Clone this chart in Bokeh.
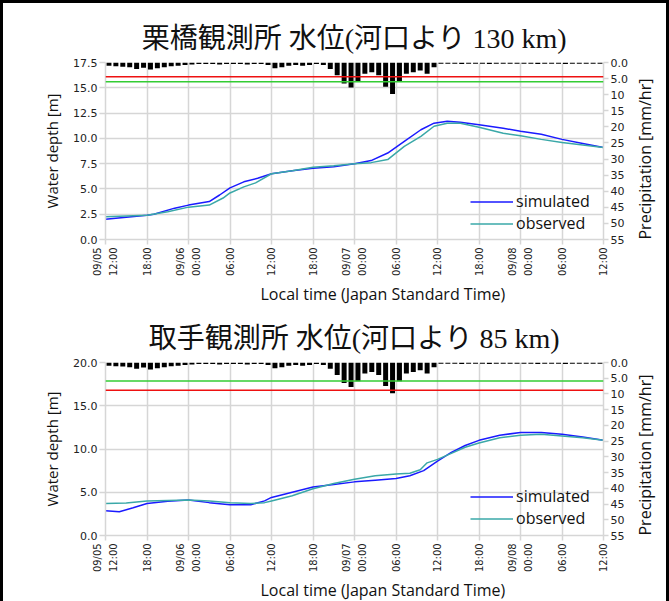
import math
from bokeh.plotting import figure
from bokeh.models import Range1d, LinearAxis, FixedTicker, Span, Title
from bokeh.layouts import column
from bokeh.embed import file_html
from bokeh.resources import INLINE

# ---------------- data ----------------
x_ticks = [0, 6, 12, 18, 24, 30, 36, 42, 48, 54, 60, 66, 72]
x_tick_labels = ["09/05\n12:00", "18:00", "09/06\n00:00", "06:00", "12:00", "18:00",
                 "09/07\n00:00", "06:00", "12:00", "18:00", "09/08\n00:00", "06:00", "12:00"]

rain_hours = [h + 0.5 for h in range(72)]
rain_mm = [1.0, 1.2, 1.3, 1.5, 2.0, 1.6,
           2.2, 1.8, 1.5, 1.2, 1.0, 0.8,
           0.6, 0.5, 0.5, 0.5, 0.6, 0.5, 0.5, 0.5, 0.6, 0.5, 0.5, 0.8,
           1.8, 1.5, 1.0, 0.8, 1.0, 0.8,
           0.5, 0.8, 2.0, 4.0, 6.5, 7.8,
           6.0, 3.5, 3.0, 4.0, 7.5, 9.8,
           6.0, 3.5, 3.0, 2.5, 3.5, 1.5,
           0.4, 0.4, 0.4, 0.5, 0.4, 0.4, 0.4, 0.5, 0.4, 0.4, 0.4, 0.4,
           0.4, 0.4, 0.5, 0.4, 0.4, 0.4, 0.5, 0.4, 0.4, 0.4, 0.4, 0.4]
rain_ticks = [0, 5, 10, 15, 20, 25, 30, 35, 40, 45, 50, 55]
rain_tick_labels = ["0.0", "5.0", "10", "15", "20", "25", "30", "35", "40", "45", "50", "55"]

# Kurihashi (130 km)
title_1 = "栗橋観測所 水位(河口より 130 km)"
sim1_h = [0, 3, 6, 7, 10, 12, 15, 16.5, 18, 20, 22, 24, 27, 30, 33, 36, 38.4, 40.8, 43.2,
          45.6, 47.5, 49.4, 51.3, 54, 57.5, 60, 63, 66, 69, 72]
sim1_v = [2.0, 2.2, 2.4, 2.5, 3.1, 3.4, 3.75, 4.4, 5.1, 5.7, 6.05, 6.5, 6.8, 7.05, 7.2, 7.5,
          7.8, 8.55, 9.7, 10.85, 11.5, 11.7, 11.6, 11.35, 11.0, 10.7, 10.4, 9.9, 9.5, 9.1]
obs1_h = [0, 6, 9, 12, 15, 17, 18, 20, 21.7, 24, 27, 30, 33, 36, 38.4, 40.8, 43.2, 45.6,
          47.5, 49.4, 51.3, 54, 57.5, 60, 63, 66, 69, 72]
obs1_v = [2.25, 2.4, 2.75, 3.2, 3.4, 4.1, 4.6, 5.2, 5.6, 6.5, 6.8, 7.15, 7.3, 7.5, 7.6, 7.9,
          9.2, 10.2, 11.2, 11.5, 11.5, 11.1, 10.5, 10.25, 9.9, 9.6, 9.35, 9.1]
y1_ticks = [0, 2.5, 5, 7.5, 10, 12.5, 15, 17.5]
y1_tick_labels = ["0.0", "2.5", "5.0", "7.5", "10.0", "12.5", "15.0", "17.5"]
red1, green1 = 16.1, 15.6

# Toride (85 km)
title_2 = "取手観測所 水位(河口より 85 km)"
sim2_h = [0, 2, 4, 6, 9, 12, 15, 18, 21, 23, 24, 27, 30, 33, 36, 39, 42, 44, 46, 48, 50,
          52, 54, 57, 60, 63, 66, 69, 72]
sim2_v = [2.85, 2.75, 3.2, 3.7, 3.95, 4.1, 3.8, 3.55, 3.55, 4.0, 4.4, 5.0, 5.6, 5.9, 6.2,
          6.4, 6.6, 6.9, 7.5, 8.6, 9.6, 10.4, 11.0, 11.6, 11.9, 11.9, 11.7, 11.4, 11.0]
obs2_h = [0, 3, 6, 9, 12, 15, 18, 21, 23, 24, 27, 30, 33, 36, 39, 42, 44, 45.5, 46.5, 48,
          50, 52, 54, 57, 60, 63, 66, 69, 72]
obs2_v = [3.7, 3.75, 4.0, 4.05, 4.1, 4.0, 3.8, 3.7, 3.8, 4.0, 4.6, 5.4, 6.0, 6.5, 6.9, 7.1,
          7.2, 7.6, 8.4, 8.8, 9.5, 10.2, 10.7, 11.3, 11.6, 11.7, 11.5, 11.3, 11.0]
y2_ticks = [0, 5, 10, 15, 20]
y2_tick_labels = ["0.0", "5.0", "10.0", "15.0", "20.0"]
red2, green2 = 16.8, 17.85

GRID = "#d6d6d6"
TICKFONT = "DejaVu Sans"
NARROW = "Liberation Sans Narrow, DejaVu Sans Condensed, Liberation Sans"
LABELFONT = "Open Sans"
TITLEFONT = "Liberation Serif, Noto Sans CJK JP"


def panel(title, sim_h, sim_v, obs_h, obs_v, ymax, yt, ytl, red, green,
          height, top, bottom, title_standoff, legend_vy):
    p = figure(width=669, height=height, output_backend="svg", toolbar_location=None,
               x_range=Range1d(0, 72), y_range=Range1d(0, ymax),
               min_border_left=105, min_border_right=61,
               min_border_top=top, min_border_bottom=bottom)
    p.border_fill_color = None
    p.background_fill_color = None
    p.outline_line_color = None

    p.title.text = title
    p.title.text_font = TITLEFONT
    p.title.text_font_size = "28px"
    p.title.text_font_style = "normal"
    p.title.text_color = "#111111"
    p.title.align = "center"
    p.title.standoff = title_standoff

    p.extra_y_ranges = {"rain": Range1d(55, 0)}

    # axes
    xa = p.xaxis[0]
    xa.ticker = FixedTicker(ticks=x_ticks)
    xa.major_label_overrides = {t: l for t, l in zip(x_ticks, x_tick_labels)}
    xa.major_label_orientation = math.pi / 2
    xa.major_label_text_font = NARROW
    xa.major_label_text_font_size = "11px"
    xa.major_label_text_color = "#222222"
    xa.major_label_standoff = 3
    xa.axis_line_color = GRID
    xa.axis_line_width = 1.5
    xa.major_tick_line_color = GRID
    xa.major_tick_line_width = 1.5
    xa.major_tick_out = 5
    xa.major_tick_in = 0
    xa.minor_tick_line_color = None

    ya = p.yaxis[0]
    ya.ticker = FixedTicker(ticks=yt)
    ya.major_label_overrides = {t: l for t, l in zip(yt, ytl)}
    ya.major_label_text_font = TICKFONT
    ya.major_label_text_font_size = "11px"
    ya.major_label_text_color = "#222222"
    ya.major_label_standoff = 2
    ya.axis_label = "Water depth [m]"
    ya.axis_label_text_font = LABELFONT
    ya.axis_label_text_font_size = "15px"
    ya.axis_label_text_font_style = "normal"
    ya.axis_label_text_color = "#111111"
    ya.axis_label_standoff = 8
    ya.axis_line_color = GRID
    ya.axis_line_width = 1.5
    ya.major_tick_line_color = GRID
    ya.major_tick_line_width = 1.5
    ya.major_tick_out = 6
    ya.major_tick_in = 0
    ya.minor_tick_line_color = None

    ra = LinearAxis(y_range_name="rain", ticker=FixedTicker(ticks=rain_ticks))
    ra.major_label_overrides = {t: l for t, l in zip(rain_ticks, rain_tick_labels)}
    ra.major_label_text_font = TICKFONT
    ra.major_label_text_font_size = "11px"
    ra.major_label_text_color = "#222222"
    ra.major_label_standoff = 2
    ra.axis_label = "Precipitation [mm/hr]"
    ra.axis_label_text_font = LABELFONT
    ra.axis_label_text_font_size = "16px"
    ra.axis_label_text_font_style = "normal"
    ra.axis_label_text_color = "#111111"
    ra.axis_label_standoff = 14
    if "axis_label_align" in ra.properties():
        # read bottom-to-top, starting near the bottom of the frame
        ra.axis_label_orientation = math.pi / 2
        ra.axis_label_align = "end"
    ra.axis_line_color = GRID
    ra.axis_line_width = 1.5
    ra.major_tick_line_color = GRID
    ra.major_tick_line_width = 1.5
    ra.major_tick_out = 5
    ra.major_tick_in = 0
    ra.minor_tick_line_color = None
    p.add_layout(ra, "right")

    p.xgrid.ticker = FixedTicker(ticks=x_ticks)
    p.ygrid.ticker = FixedTicker(ticks=yt)
    for g in (p.xgrid[0], p.ygrid[0]):
        g.grid_line_color = GRID
        g.grid_line_width = 1.5

    p.add_layout(Title(text="Local time (Japan Standard Time)", align="left", offset=155,
                       text_font=LABELFONT, text_font_size="16px",
                       text_font_style="normal", text_color="#111111", standoff=2), "below")

    # rain bars (hanging from top)
    p.vbar(x=rain_hours, width=0.72, top=rain_mm, bottom=0, y_range_name="rain",
           fill_color="black", line_color=None)

    # warning levels
    p.add_layout(Span(location=red, dimension="width", line_color="#ee1111", line_width=1.5))
    p.add_layout(Span(location=green, dimension="width", line_color="#33cc33", line_width=1.5))

    p.line(sim_h, sim_v, line_color="#1a1aff", line_width=1.5, legend_label="simulated")
    p.line(obs_h, obs_v, line_color="#3aa8a8", line_width=1.5, legend_label="observed")

    lg = p.legend[0]
    lg.location = (365, legend_vy)
    lg.border_line_color = None
    lg.background_fill_alpha = 0
    lg.padding = 0
    lg.margin = 0
    lg.spacing = 0
    lg.glyph_width = 43
    lg.glyph_height = 21
    lg.label_height = 21
    lg.label_standoff = 3
    lg.label_text_font = LABELFONT
    lg.label_text_font_size = "16px"
    lg.label_text_color = "#111111"
    return p


p1 = panel(title_1, sim1_h, sim1_v, obs1_h, obs1_v, 17.5, y1_ticks, y1_tick_labels,
           red1, green1, height=310, top=62, bottom=71, title_standoff=18, legend_vy=5)
p2 = panel(title_2, sim2_h, sim2_v, obs2_h, obs2_v, 20, y2_ticks, y2_tick_labels,
           red2, green2, height=291, top=52, bottom=63, title_standoff=18, legend_vy=6)

layout = column(p1, p2,
                styles={"box-shadow": "inset 3px 3px 0 0 #000, inset -3px 0 0 0 #000"})

open("out.html", "w").write(file_html(layout, INLINE))
